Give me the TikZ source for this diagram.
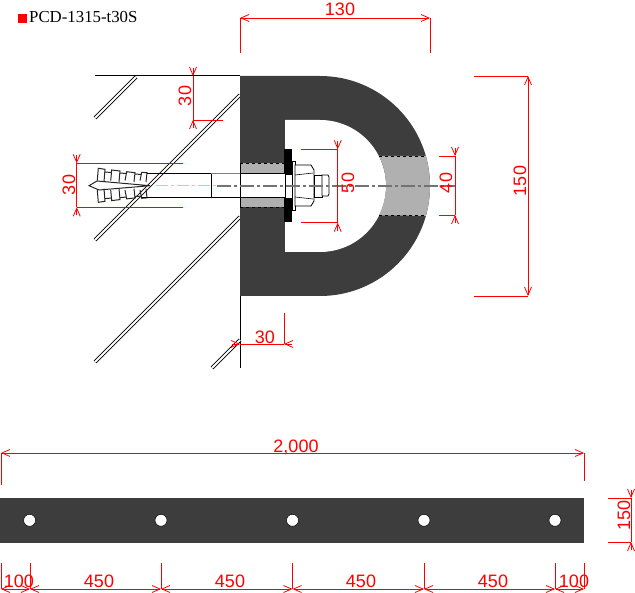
\documentclass[tikz,border=0pt]{standalone}
\usepackage{fontspec}
\setmainfont{Liberation Serif}
\newfontfamily\dimfont{Liberation Sans}
\usetikzlibrary{arrows.meta}
\definecolor{steel}{RGB}{61, 61, 61}
\definecolor{insert}{RGB}{176, 176, 176}
\definecolor{dimred}{RGB}{255, 0, 0}
\definecolor{axiscyan}{RGB}{120, 235, 235}
\tikzset{
  dimline/.style={color=dimred, line width=0.8pt},
  dimtip/.style={dimline, {Straight Barb[length=8pt, width=7pt]}-{Straight Barb[length=8pt, width=7pt]}},
  dimend/.style={dimline, -{Straight Barb[length=8pt, width=7pt]}},
  dimtext/.style={color=dimred, inner sep=0pt, font=\dimfont\fontsize{18}{18}\selectfont},
  wallline/.style={double, double distance=2pt, line width=0.8pt},
  anchorline/.style={line width=1pt, color=black!85}
}
\begin{document}
\begin{tikzpicture}[x=1pt, y=1pt, yscale=-1]
  \useasboundingbox (0, 0) rectangle (635, 593);

  \fill[color=dimred] (18, 14) rectangle (27, 23);
  \node[anchor=west, inner sep=0pt, font=\fontsize{16.8}{16.8}\selectfont] (title) at (29, 17) {PCD-1315-t30S};

  \draw[line width=1pt] (95, 76) -- (240, 76);
  \draw[line width=1pt] (240, 296) -- (240, 368);
  \draw[wallline] (95, 118) -- (136, 77);
  \draw[wallline] (95, 240) -- (240, 95);
  \draw[wallline] (95, 362) -- (240, 217);
  \draw[wallline] (212, 368) -- (240, 340);

  \fill[color=steel] (240, 76) -- (320, 76) arc[start angle=-90, end angle=90, radius=110pt]
    -- (240, 296) -- cycle;
  \fill[color=white] (285, 120) -- (320, 120) arc[start angle=-90, end angle=90, radius=66pt]
    -- (285, 252) -- cycle;
  \fill[color=insert] (378.8, 156) -- (425.8, 156) arc[start angle=-15.8, end angle=15.8, radius=110pt]
    -- (378.8, 215.5) arc[start angle=27, end angle=-27, radius=66pt] -- cycle;
  \draw[dashed, line width=0.6pt] (379, 156) -- (426, 156);
  \draw[dashed, line width=0.6pt] (379, 215) -- (426, 215);
  \fill[color=insert] (240, 163) rectangle (285, 207);
  \draw[dashed, line width=0.6pt] (240, 163) -- (285, 163);
  \draw[dashed, line width=0.6pt] (240, 207) -- (285, 207);
  \fill[color=white] (240, 173) rectangle (285, 198);

  \foreach \x/\xa/\xb/\xc/\ya/\yb in {
    97.3/98.3/105/104/168.3/169.3,
    110.7/111.7/120/119/170/171,
    125/126.7/135/134/171.7/172.7,
    140/141.7/147/146/172.3/172.7}{
    \draw[anchorline] (\x, 180.5) -- (\xa, \ya) -- (\xb, \yb) -- (\xc, 182);
    \draw[anchorline] (\x, 190.1) -- (\xa, 370.6 - \ya) -- (\xb, 370.6 - \yb) -- (\xc, 188.6);
  }
  \draw[anchorline] (89, 185.7) -- (97, 181) -- (150, 185.7) -- (99, 190) -- cycle;
  \draw[anchorline] (105, 172) -- (111, 172.5);
  \draw[anchorline] (120, 173) -- (126, 173.5);
  \draw[anchorline] (135, 174) -- (141, 174.5);
  \draw[anchorline] (105, 198.6) -- (111, 198.1);
  \draw[anchorline] (120, 197.6) -- (126, 197.1);
  \draw[anchorline] (135, 196.6) -- (141, 196.1);

  \draw[line width=0.9pt] (146.7, 173.3) -- (211, 173.3) -- (211, 197.7) -- (141.7, 197.7);
  \draw[line width=0.9pt, color=gray] (211, 173.3) -- (240, 173.3);
  \draw[line width=0.9pt] (211, 197.7) -- (285, 197.7);
  \draw[line width=0.9pt] (240, 173.3) -- (285, 173.3);
  \draw[line width=0.9pt] (240.5, 163) -- (240.5, 207);

  \fill[color=black] (284, 149) rectangle (292, 174);
  \fill[color=black] (284, 198) rectangle (292, 222);
  \draw[line width=0.6pt] (285, 174) rectangle (292, 198);
  \draw[line width=0.6pt, fill=white] (292, 161) rectangle (295, 210);
  \draw[line width=0.8pt, fill=white] (295, 165) -- (311, 165) -- (314, 170) -- (314, 201)
    -- (311, 206) -- (295, 206) -- cycle;
  \draw[line width=0.6pt] (295, 175) -- (313, 173);
  \draw[line width=0.6pt] (295, 197) -- (313, 199);
  \draw[line width=0.8pt, fill=white] (314, 175) rectangle (322, 197);
  \draw[line width=0.8pt, fill=white] (322, 175) -- (328, 175) -- (329, 177) -- (329, 194)
    -- (328, 196) -- (322, 196) -- cycle;

  \draw[color=axiscyan, line width=1pt, dash pattern=on 12pt off 3pt on 3pt off 3pt] (156, 186) -- (217, 186);
  \draw[color=black!55, line width=1.1pt, dash pattern=on 14pt off 3pt on 3pt off 3pt] (217, 186) -- (455, 186);

  \fill[color=steel] (0, 498) rectangle (584, 543);
  \foreach \hx in {29.6, 161, 292.5, 424, 555}{
    \draw[fill=white, line width=0.5pt] (\hx, 520.3) circle (6pt);
  }

  \draw[dimtip] (240, 18) -- (430, 18);
  \draw[dimline] (240, 18) -- (240, 53);
  \draw[dimline] (430, 18) -- (430, 53);
  \node[dimtext] (top130) at (340, 9) {130};

  \draw[dimtip] (528, 76) -- (528, 296);
  \draw[dimline] (474, 76) -- (528, 76);
  \draw[dimline] (474, 296) -- (528, 296);
  \node[dimtext, rotate=90] (right150) at (520, 181) {150};

  \draw[dimend] (193, 68) -- (193, 76);
  \draw[dimend] (193, 128) -- (193, 120);
  \draw[dimline] (193, 76) -- (193, 120);
  \draw[dimline] (193, 120) -- (223, 120);
  \node[dimtext, rotate=90] (wall30) at (185, 96) {30};

  \draw[dimend] (76.7, 155) -- (76.7, 163.3);
  \draw[dimend] (76.7, 215.5) -- (76.7, 207.3);
  \draw[dimline] (76.7, 163.3) -- (76.7, 207.3);
  \draw[dimline] (76.7, 163.3) -- (183, 163.3);
  \draw[dimline] (76.7, 207.3) -- (183, 207.3);
  \node[dimtext, rotate=90] (anchor30) at (69, 185) {30};

  \draw[dimend] (337.7, 141) -- (337.7, 149.3);
  \draw[dimend] (337.7, 231) -- (337.7, 222.7);
  \draw[dimline] (337.7, 149.3) -- (337.7, 222.7);
  \draw[dimline] (301, 149.3) -- (337.7, 149.3);
  \draw[dimline] (301, 222.7) -- (337.7, 222.7);
  \node[dimtext, rotate=90] (washer50) at (348, 183) {50};

  \draw[dimend] (455, 148) -- (455, 156);
  \draw[dimend] (455, 223) -- (455, 215);
  \draw[dimline] (455, 156) -- (455, 215);
  \draw[dimline] (439, 156) -- (455, 156);
  \draw[dimline] (439, 215) -- (455, 215);
  \node[dimtext, rotate=90] (insert40) at (446, 183) {40};

  \draw[dimend] (232, 344) -- (240, 344);
  \draw[dimend] (292, 344) -- (284, 344);
  \draw[dimline] (240, 344) -- (284, 344);
  \draw[dimline] (284, 313) -- (284, 344);
  \node[dimtext] (base30) at (265, 337) {30};

  \draw[dimtip] (1, 453) -- (584, 453);
  \draw[dimline] (1, 453) -- (1, 485);
  \draw[dimline] (584, 453) -- (584, 481);
  \node[dimtext] (total2000) at (296, 447) {2,000};

  \draw[dimend] (631, 490) -- (631, 498);
  \draw[dimend] (631, 550) -- (631, 542);
  \draw[dimline] (631, 498) -- (631, 542);
  \draw[dimline] (608, 498) -- (631, 498);
  \draw[dimline] (608, 542) -- (631, 542);
  \node[dimtext, rotate=90] (side150) at (624, 515) {150};

  \foreach \tx in {1, 30, 161, 292.5, 424, 555, 584}{
    \draw[dimline] (\tx, 563) -- (\tx, 589);
  }
  \foreach \ax/\bx in {1/30, 30/161, 161/292.5, 292.5/424, 424/555, 555/584}{
    \draw[dimtip] (\ax, 589) -- (\bx, 589);
  }
  \node[dimtext] (pitch100a) at (19, 581) {100};
  \node[dimtext] (pitch450a) at (99, 581) {450};
  \node[dimtext] (pitch450b) at (230, 581) {450};
  \node[dimtext] (pitch450c) at (361, 581) {450};
  \node[dimtext] (pitch450d) at (493, 581) {450};
  \node[dimtext] (pitch100b) at (574, 581) {100};
\end{tikzpicture}
\end{document}
